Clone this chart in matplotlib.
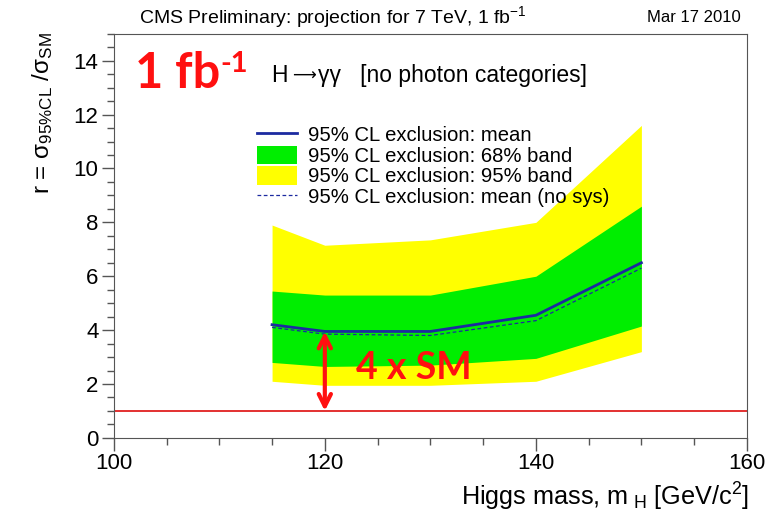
import matplotlib
matplotlib.use('Agg')
import matplotlib.pyplot as plt
from matplotlib.ticker import MultipleLocator

# data
mass = [115, 120, 130, 140, 150]
mean = [4.2, 3.95, 3.95, 4.55, 6.5]
mean_nosys = [4.1, 3.85, 3.8, 4.35, 6.3]
band68_lo = [2.8, 2.65, 2.7, 2.95, 4.15]
band68_hi = [5.45, 5.3, 5.3, 6.0, 8.6]
band95_lo = [2.1, 1.95, 1.95, 2.1, 3.2]
band95_hi = [7.9, 7.15, 7.35, 8.0, 11.6]
sm_level = 1.0

plt.rcParams['font.family'] = ['Liberation Sans', 'DejaVu Sans']
plt.rcParams['mathtext.fontset'] = 'custom'
plt.rcParams['mathtext.rm'] = 'Liberation Sans'
plt.rcParams['mathtext.it'] = 'Liberation Sans:italic'
plt.rcParams['mathtext.bf'] = 'Liberation Sans:bold'
plt.rcParams['mathtext.default'] = 'regular'

fig = plt.figure(figsize=(7.74, 5.2), dpi=100)
ax = fig.add_axes([0.147, 0.158, 0.818, 0.777])

ax.fill_between(mass, band95_lo, band95_hi, color='#ffff00', lw=0,
                label='95% CL exclusion: 95% band')
ax.fill_between(mass, band68_lo, band68_hi, color='#00ee00', lw=0,
                label='95% CL exclusion: 68% band')
ax.plot(mass, mean, color='#1c2aa0', lw=2, label='95% CL exclusion: mean')
ax.plot(mass, mean_nosys, color='#1c2aa0', lw=0.9, ls=(0, (3, 2)),
        label='95% CL exclusion: mean (no sys)')
ax.axhline(sm_level, color='#e02020', lw=1.3)

# arrow + text
ax.annotate('', xy=(120, sm_level), xytext=(120, mean[1]),
            arrowprops=dict(arrowstyle='<->', color='#ff1010', lw=3,
                            mutation_scale=22, shrinkA=0, shrinkB=0))
ax.text(123, 2.6, '4 x SM', color='#ff1010', fontsize=27, fontweight='bold',
        family=['Lato', 'DejaVu Sans'], va='center', ha='left')

ax.set_xlim(100, 160)
ax.set_ylim(0, 15)
ax.xaxis.set_major_locator(MultipleLocator(20))
ax.xaxis.set_minor_locator(MultipleLocator(5))
ax.yaxis.set_major_locator(MultipleLocator(2))
ax.yaxis.set_minor_locator(MultipleLocator(0.5))
ax.tick_params(which='major', direction='out', length=9, width=1, color='#555555',
               labelsize=16, pad=2)
ax.tick_params(which='minor', direction='out', length=5, width=1, color='#555555')
for s in ax.spines.values():
    s.set_color('#555555')

h, l = ax.get_legend_handles_labels()
order = [2, 1, 0, 3]
ax.legend([h[i] for i in order], [l[i] for i in order], loc='upper left',
          bbox_to_anchor=(0.21, 0.80), frameon=False, fontsize=14.6,
          handlelength=2.0, handleheight=1.0, labelspacing=0.04, borderpad=0,
          handletextpad=0.5)

ax.text(0.033, 0.866, '1 fb', transform=ax.transAxes, color='#ff1010',
        fontsize=35, fontweight='bold', family=['Lato', 'DejaVu Sans'],
        va='baseline', ha='left')
ax.text(0.169, 0.906, '-1', transform=ax.transAxes, color='#ff1010',
        fontsize=21, fontweight='bold', family=['Lato', 'DejaVu Sans'],
        va='baseline', ha='left')
ax.text(0.248, 0.897, 'H', transform=ax.transAxes, fontsize=16.5,
        va='center', ha='left')
ax.text(0.282, 0.897, '\u27f6', transform=ax.transAxes, fontsize=12,
        family=['DejaVu Sans'], va='center', ha='left')
ax.text(0.322, 0.897, 'γγ   [no photon categories]', transform=ax.transAxes,
        fontsize=16.5, va='center', ha='left')

fig.text(0.18, 0.967, r'CMS Preliminary: projection for 7 TeV, 1 fb$^{-1}$',
         fontsize=14, va='center', ha='left', family=['Liberation Sans Narrow', 'Liberation Sans'])
fig.text(0.957, 0.967, 'Mar 17 2010', fontsize=12, va='center', ha='right',
         family=['Liberation Sans Narrow', 'Liberation Sans'])

fig.text(0.055, 0.938, r'r = σ$_{95\%CL}$ /σ$_{SM}$', rotation=90,
         fontsize=17.5, va='top', ha='center')
fig.text(0.967, 0.045, r'Higgs mass, m$_{\ H}$ [GeV/c$^{2}$]', fontsize=18.2,
         va='center', ha='right')

fig.savefig('out.png', dpi=100)
